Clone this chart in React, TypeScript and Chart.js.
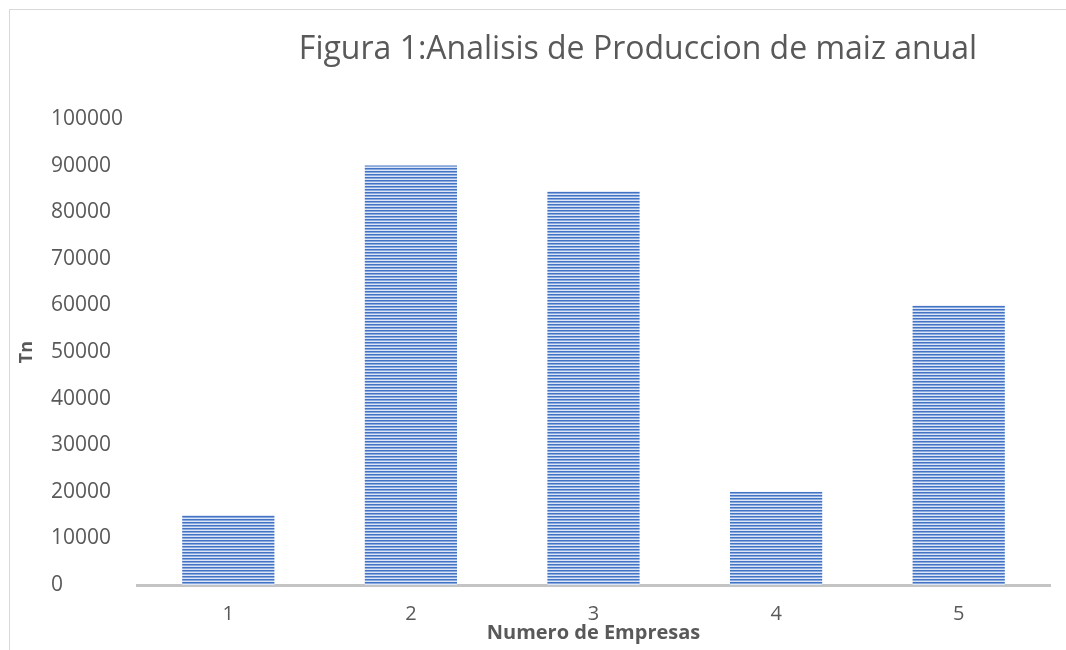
import { useEffect, useRef } from "react";
import { Chart, registerables } from "chart.js";

Chart.register(...registerables);

const TITLE = "Figura 1:Analisis de Produccion de maiz anual";
const X_TITLE = "Numero de Empresas";
const Y_TITLE = "Tn";
const categories = ["1", "2", "3", "4", "5"];
const production = [15000, 90000, 84500, 20000, 60000];
const Y_MIN = 0;
const Y_MAX = 100000;
const Y_STEP = 10000;

const TEXT = "#595959";
const FONT = "'Open Sans', 'Noto Sans', sans-serif";

function makeStripePattern(): CanvasPattern | string {
  const c = document.createElement("canvas");
  c.width = 4;
  c.height = 3;
  const g = c.getContext("2d");
  if (!g) return "#4472c4";
  const rows = ["#4472c4", "#89aadd", "#dbe5f5"];
  rows.forEach((col, i) => {
    g.fillStyle = col;
    g.fillRect(0, i, 4, 1);
  });
  const main = document.createElement("canvas").getContext("2d");
  const p = main ? main.createPattern(c, "repeat") : null;
  return p || "#4472c4";
}

const decorations = {
  id: "decorations",
  beforeDraw(chart: any) {
    const { ctx, width, height } = chart;
    ctx.save();
    ctx.fillStyle = "#ffffff";
    ctx.fillRect(0, 0, width, height);
    ctx.strokeStyle = "#d9d9d9";
    ctx.lineWidth = 1;
    ctx.strokeRect(9.5, 9.5, width + 20, height + 20);
    ctx.restore();
  },
  afterDraw(chart: any) {
    const { ctx, chartArea } = chart;
    ctx.save();
    ctx.fillStyle = TEXT;
    ctx.font = `32px ${FONT}`;
    ctx.textAlign = "center";
    ctx.textBaseline = "middle";
    ctx.fillText(TITLE, 638, 50);
    ctx.translate(27, (chartArea.top + chartArea.bottom) / 2);
    ctx.rotate(-Math.PI / 2);
    ctx.font = `bold 18px ${FONT}`;
    ctx.fillText(Y_TITLE, 0, 0);
    ctx.restore();
  },
};

export default function App() {
  const ref = useRef<HTMLCanvasElement>(null);

  useEffect(() => {
    if (!ref.current) return;
    const pattern = makeStripePattern();
    const chart = new Chart(ref.current, {
      type: "bar",
      data: {
        labels: categories,
        datasets: [
          {
            label: "Tn",
            data: production,
            backgroundColor: pattern as any,
            borderWidth: 0,
            categoryPercentage: 1,
            barPercentage: 0.505,
          },
        ],
      },
      options: {
        animation: false,
        responsive: true,
        maintainAspectRatio: false,
        layout: { padding: { left: 51, right: 16, top: 119, bottom: 0 } },
        plugins: {
          legend: { display: false },
          title: { display: false },
          tooltip: { enabled: false },
        },
        scales: {
          x: {
            grid: { display: false, drawTicks: false },
            border: { display: true, color: "#c4c4c4", width: 3 },
            ticks: { color: TEXT, font: { family: FONT, size: 20 }, padding: 17 },
            title: {
              display: true,
              text: X_TITLE,
              color: TEXT,
              font: { family: FONT, size: 20, weight: "bold" },
              padding: { top: 0, bottom: 5 },
            },
            afterFit(scale: any) {
              scale.height = 65;
            },
          },
          y: {
            min: Y_MIN,
            max: Y_MAX,
            grid: { display: false, drawTicks: false },
            border: { display: false },
            ticks: {
              stepSize: Y_STEP,
              color: TEXT,
              crossAlign: "far",
              font: { family: FONT, size: 21 },
              callback: (v: any) => String(v),
            },
            afterFit(scale: any) {
              scale.width = 86;
            },
          },
        },
      },
      plugins: [decorations],
    });
    return () => chart.destroy();
  }, []);

  return (
    <div style={{ position: "absolute", left: 0, top: 0, width: 1066, height: 650 }}>
      <canvas ref={ref} />
    </div>
  );
}
